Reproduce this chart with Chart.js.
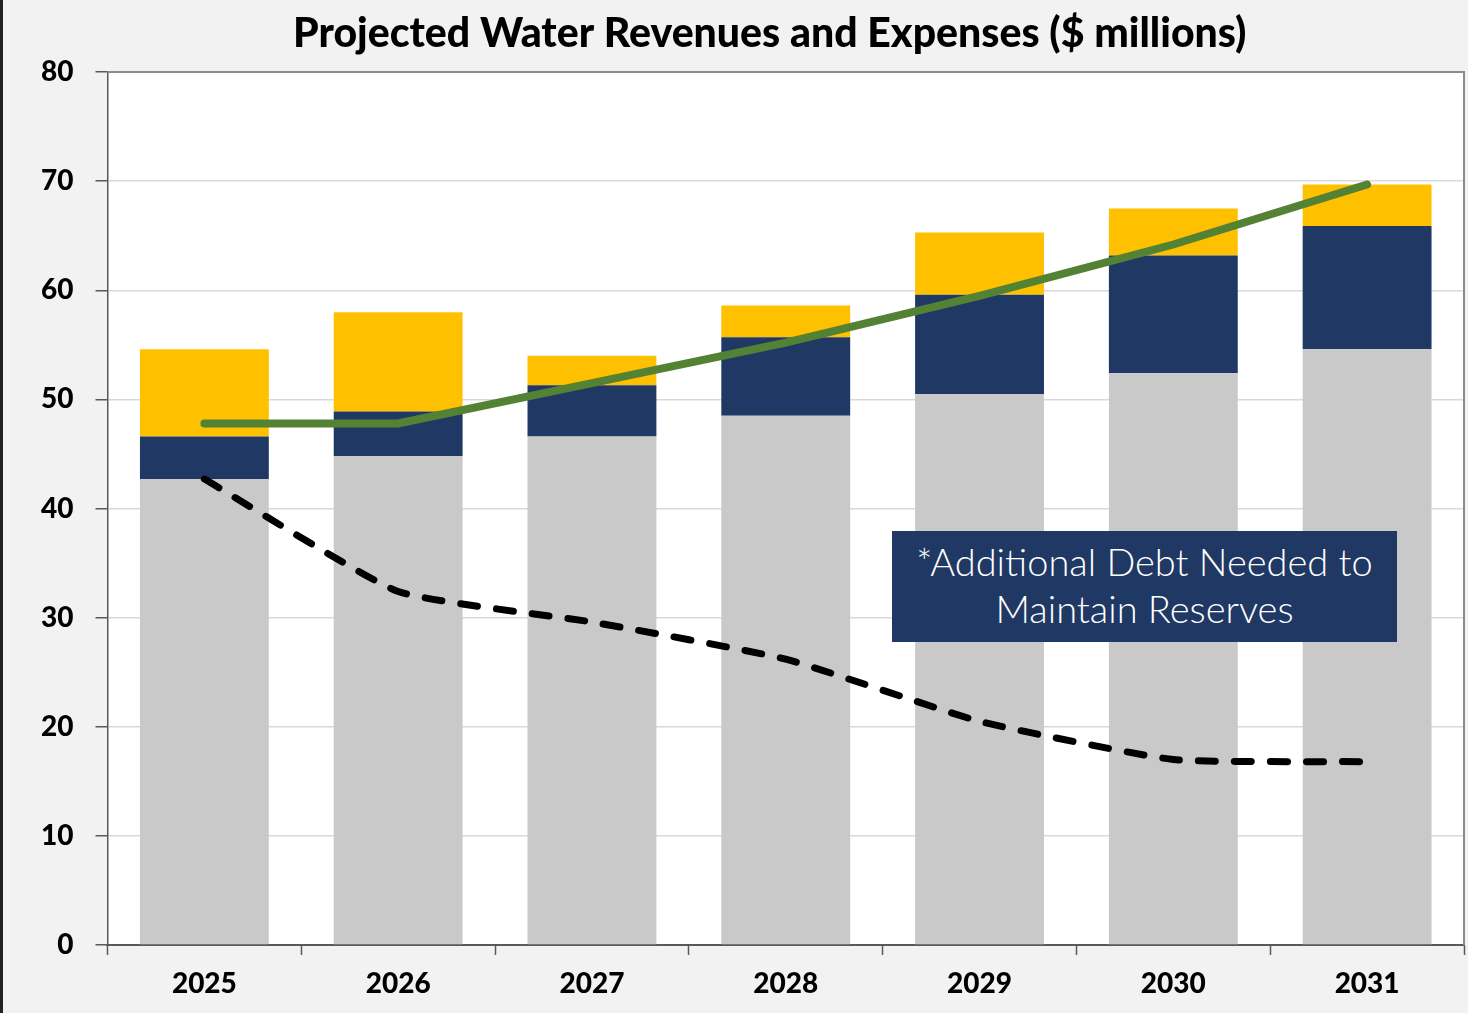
<!DOCTYPE html>
<html>
<head>
<meta charset="utf-8">
<script src="https://cdn.jsdelivr.net/npm/chart.js@4.4.1/dist/chart.umd.min.js"></script>
<style>
  body { margin: 0; background: #f2f2f2; }
  #wrap { position: relative; width: 1468px; height: 1013px; }
  #note {
    position: absolute; left: 892px; top: 531px; width: 505px; height: 111px;
    background: #203864; color: #fff; font-family: Lato, sans-serif; font-weight: 300;
    font-size: 38px; line-height: 47px; text-align: center; box-sizing: border-box; padding-top: 7px;
  }
</style>
</head>
<body>
<div id="wrap">
  <canvas id="myChart" width="1468" height="1013"></canvas>
  <div id="note">*Additional Debt Needed to<br>Maintain Reserves</div>
</div>
<script>
const years = ["2025", "2026", "2027", "2028", "2029", "2030", "2031"];
const operating = [42.7, 44.8, 46.6, 48.5, 50.5, 52.4, 54.6];   // gray
const debtService = [3.9, 4.1, 4.7, 7.2, 9.1, 10.8, 11.3];      // navy
const capital = [8.0, 9.1, 2.7, 2.9, 5.7, 4.3, 3.8];            // yellow
const revenues = [47.8, 47.8, 51.5, 55.2, 59.5, 64.2, 69.7];    // green line
const reserves = [42.7, 32.4, 29.6, 26.2, 20.5, 17.0, 16.8];    // dashed line
const yTicks = [0, 10, 20, 30, 40, 50, 60, 70, 80];

const frame = {
  id: "frame",
  afterLayout(chart) {
    // title sits a bit left of the plot centre in the original
    const t = chart.titleBlock, a = chart.chartArea;
    const shift = (a.left + a.right) / 2 - 16 - (t.left + t.right) / 2;
    t.left += shift;
    t.right += shift;
  },
  beforeDraw(chart) {
    const c = chart.ctx, a = chart.chartArea;
    c.save();
    c.fillStyle = "#f2f2f2";
    c.fillRect(0, 0, chart.width, chart.height);
    c.fillStyle = "#222";
    c.fillRect(0, 0, 3, chart.height);
    c.fillStyle = "#fff";
    c.fillRect(a.left, a.top, a.right - a.left, a.bottom - a.top);
    c.restore();
  },
  afterDraw(chart) {
    const c = chart.ctx, a = chart.chartArea;
    c.save();
    c.strokeStyle = "#8c8c8c";
    c.lineWidth = 2;
    c.beginPath();
    c.moveTo(a.left, a.top);
    c.lineTo(a.right, a.top);
    c.lineTo(a.right, a.bottom);
    c.stroke();
    c.restore();
  }
};

const tickFont = { family: "Lato", size: 28, weight: "900", lineHeight: 1.0 };

const ctx = document.getElementById("myChart").getContext("2d");
const chart = new Chart(ctx, {
  type: "bar",
  data: {
    labels: years,
    datasets: [{
      type: "line",
      data: revenues,
      borderColor: "#548235",
      borderWidth: 8,
      borderCapStyle: "round",
      pointRadius: 0,
      tension: 0,
      stack: "rev",
      order: 0,
      label: "Revenues"
    }, {
      type: "line",
      data: reserves,
      borderColor: "#000",
      borderWidth: 7,
      borderDash: [17, 19],
      borderCapStyle: "round",
      pointRadius: 0,
      tension: 0.15,
      stack: "res",
      order: 0,
      label: "Reserves"
    }, {
      data: operating,
      backgroundColor: "#c9c9c9",
      order: 1,
      label: "Operating"
    }, {
      data: debtService,
      backgroundColor: "#203864",
      order: 1,
      label: "Debt Service"
    }, {
      data: capital,
      backgroundColor: "#ffc000",
      order: 1,
      label: "Capital"
    }]
  },
  options: {
    responsive: false,
    animation: false,
    layout: { padding: { left: 19, right: 4, bottom: 0 } },
    datasets: { bar: { barPercentage: 1, categoryPercentage: 0.665 } },
    plugins: {
      legend: { display: false },
      tooltip: { enabled: false },
      title: {
        display: true,
        text: "Projected Water Revenues and Expenses ($ millions)",
        color: "#000",
        font: { family: "Lato", size: 41, weight: "900", lineHeight: 1.1 },
        padding: { top: 11, bottom: 16 }
      }
    },
    scales: {
      x: {
        stacked: true,
        grid: { drawOnChartArea: false, offset: true, tickLength: 10, tickColor: "#595959", tickWidth: 1.5 },
        border: { color: "#595959", width: 2 },
        ticks: { color: "#000", font: tickFont, padding: 15 }
      },
      y: {
        stacked: true,
        min: 0,
        max: 80,
        afterBuildTicks(axis) { axis.ticks = yTicks.map(v => ({ value: v })); },
        grid: { color: "#d9d9d9", lineWidth: 1.5, tickLength: 12, tickColor: "#595959" },
        border: { color: "#595959", width: 1.5 },
        ticks: { color: "#000", font: tickFont, padding: 22 }
      }
    }
  },
  plugins: [frame]
});
</script>
</body>
</html>
